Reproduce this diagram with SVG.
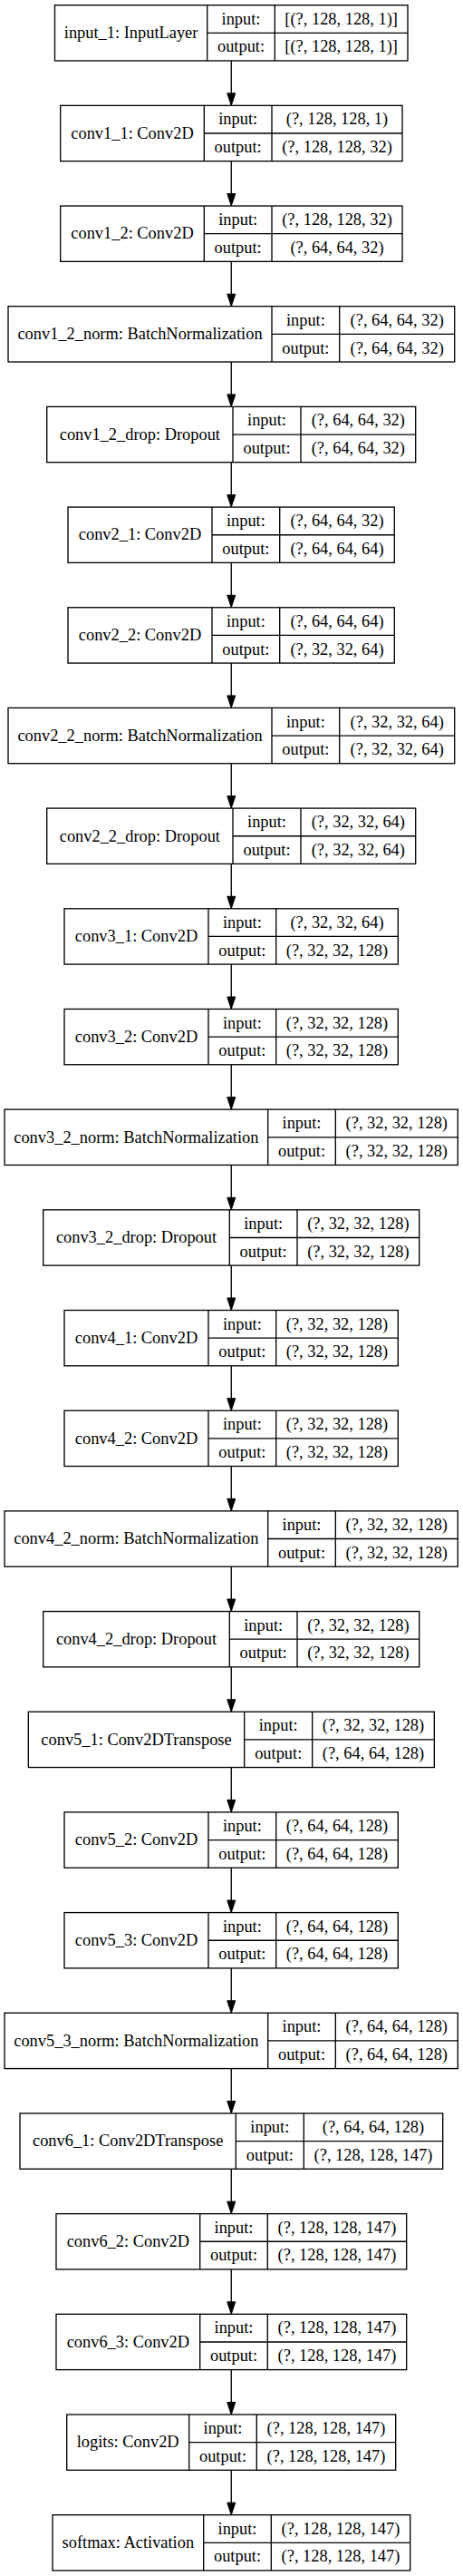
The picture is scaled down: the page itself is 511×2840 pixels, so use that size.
<svg xmlns="http://www.w3.org/2000/svg" width="511" height="2840" viewBox="0 0 511 2840">
<style>
.b{fill:none;stroke:#000;stroke-width:1.33}
text{font-family:"Liberation Serif","Times New Roman",serif;font-size:18.4px;text-anchor:middle;fill:#000}
.e{stroke:#000;stroke-width:1.33;fill:none}
</style>
<defs>
<marker id="ah" markerUnits="userSpaceOnUse" markerWidth="14" markerHeight="10" refX="0" refY="4.5" orient="auto" overflow="visible">
<path d="M0,0 L13.5,4.5 L0,9 z" fill="#000" stroke="#000" stroke-width="1"/>
</marker>
</defs>
<rect width="511" height="2840" fill="#fff"/>
<g id="connectors">
<line class="e" x1="255.25" y1="66.97" x2="255.25" y2="102.85" marker-end="url(#ah)"/>
<line class="e" x1="255.25" y1="177.65" x2="255.25" y2="213.53" marker-end="url(#ah)"/>
<line class="e" x1="255.25" y1="288.33" x2="255.25" y2="324.21" marker-end="url(#ah)"/>
<line class="e" x1="255.25" y1="399.01" x2="255.25" y2="434.89" marker-end="url(#ah)"/>
<line class="e" x1="255.25" y1="509.69" x2="255.25" y2="545.57" marker-end="url(#ah)"/>
<line class="e" x1="255.25" y1="620.37" x2="255.25" y2="656.25" marker-end="url(#ah)"/>
<line class="e" x1="255.25" y1="731.05" x2="255.25" y2="766.93" marker-end="url(#ah)"/>
<line class="e" x1="255.25" y1="841.73" x2="255.25" y2="877.61" marker-end="url(#ah)"/>
<line class="e" x1="255.25" y1="952.41" x2="255.25" y2="988.29" marker-end="url(#ah)"/>
<line class="e" x1="255.25" y1="1063.09" x2="255.25" y2="1098.97" marker-end="url(#ah)"/>
<line class="e" x1="255.25" y1="1173.77" x2="255.25" y2="1209.65" marker-end="url(#ah)"/>
<line class="e" x1="255.25" y1="1284.45" x2="255.25" y2="1320.33" marker-end="url(#ah)"/>
<line class="e" x1="255.25" y1="1395.13" x2="255.25" y2="1431.01" marker-end="url(#ah)"/>
<line class="e" x1="255.25" y1="1505.81" x2="255.25" y2="1541.69" marker-end="url(#ah)"/>
<line class="e" x1="255.25" y1="1616.49" x2="255.25" y2="1652.37" marker-end="url(#ah)"/>
<line class="e" x1="255.25" y1="1727.17" x2="255.25" y2="1763.05" marker-end="url(#ah)"/>
<line class="e" x1="255.25" y1="1837.85" x2="255.25" y2="1873.73" marker-end="url(#ah)"/>
<line class="e" x1="255.25" y1="1948.53" x2="255.25" y2="1984.41" marker-end="url(#ah)"/>
<line class="e" x1="255.25" y1="2059.21" x2="255.25" y2="2095.09" marker-end="url(#ah)"/>
<line class="e" x1="255.25" y1="2169.89" x2="255.25" y2="2205.77" marker-end="url(#ah)"/>
<line class="e" x1="255.25" y1="2280.57" x2="255.25" y2="2316.45" marker-end="url(#ah)"/>
<line class="e" x1="255.25" y1="2391.25" x2="255.25" y2="2427.13" marker-end="url(#ah)"/>
<line class="e" x1="255.25" y1="2501.93" x2="255.25" y2="2537.81" marker-end="url(#ah)"/>
<line class="e" x1="255.25" y1="2612.61" x2="255.25" y2="2648.49" marker-end="url(#ah)"/>
<line class="e" x1="255.25" y1="2723.29" x2="255.25" y2="2759.17" marker-end="url(#ah)"/>
</g>
<g id="input_1" transform="translate(0,5.67)">
<rect class="b" x="60.5" y="0" width="389.5" height="61.3"/>
<path class="b" d="M228.7,0V61.3M303.3,0V61.3M228.7,30.65H450"/>
<text x="144.6" y="36.4">input_1: InputLayer</text>
<text x="266" y="21.1">input:</text><text x="266" y="51.8">output:</text>
<text x="376.65" y="21.1">[(?, 128, 128, 1)]</text><text x="376.65" y="51.8">[(?, 128, 128, 1)]</text>
</g>
<g id="conv1_1" transform="translate(0,116.35)">
<rect class="b" x="66.7" y="0" width="377.3" height="61.3"/>
<path class="b" d="M225.3,0V61.3M300,0V61.3M225.3,30.65H444"/>
<text x="146" y="36.4">conv1_1: Conv2D</text>
<text x="262.65" y="21.1">input:</text><text x="262.65" y="51.8">output:</text>
<text x="372" y="21.1">(?, 128, 128, 1)</text><text x="372" y="51.8">(?, 128, 128, 32)</text>
</g>
<g id="conv1_2" transform="translate(0,227.03)">
<rect class="b" x="66.7" y="0" width="377.3" height="61.3"/>
<path class="b" d="M225.3,0V61.3M300,0V61.3M225.3,30.65H444"/>
<text x="146" y="36.4">conv1_2: Conv2D</text>
<text x="262.65" y="21.1">input:</text><text x="262.65" y="51.8">output:</text>
<text x="372" y="21.1">(?, 128, 128, 32)</text><text x="372" y="51.8">(?, 64, 64, 32)</text>
</g>
<g id="conv1_2_norm" transform="translate(0,337.71)">
<rect class="b" x="9" y="0" width="492.7" height="61.3"/>
<path class="b" d="M300,0V61.3M374.7,0V61.3M300,30.65H501.7"/>
<text x="154.5" y="36.4">conv1_2_norm: BatchNormalization</text>
<text x="337.35" y="21.1">input:</text><text x="337.35" y="51.8">output:</text>
<text x="438.2" y="21.1">(?, 64, 64, 32)</text><text x="438.2" y="51.8">(?, 64, 64, 32)</text>
</g>
<g id="conv1_2_drop" transform="translate(0,448.39)">
<rect class="b" x="51.7" y="0" width="407" height="61.3"/>
<path class="b" d="M257,0V61.3M332,0V61.3M257,30.65H458.7"/>
<text x="154.35" y="36.4">conv1_2_drop: Dropout</text>
<text x="294.5" y="21.1">input:</text><text x="294.5" y="51.8">output:</text>
<text x="395.35" y="21.1">(?, 64, 64, 32)</text><text x="395.35" y="51.8">(?, 64, 64, 32)</text>
</g>
<g id="conv2_1" transform="translate(0,559.07)">
<rect class="b" x="75" y="0" width="360.3" height="61.3"/>
<path class="b" d="M234,0V61.3M308.7,0V61.3M234,30.65H435.3"/>
<text x="154.5" y="36.4">conv2_1: Conv2D</text>
<text x="271.35" y="21.1">input:</text><text x="271.35" y="51.8">output:</text>
<text x="372" y="21.1">(?, 64, 64, 32)</text><text x="372" y="51.8">(?, 64, 64, 64)</text>
</g>
<g id="conv2_2" transform="translate(0,669.75)">
<rect class="b" x="75" y="0" width="360.3" height="61.3"/>
<path class="b" d="M234,0V61.3M308.7,0V61.3M234,30.65H435.3"/>
<text x="154.5" y="36.4">conv2_2: Conv2D</text>
<text x="271.35" y="21.1">input:</text><text x="271.35" y="51.8">output:</text>
<text x="372" y="21.1">(?, 64, 64, 64)</text><text x="372" y="51.8">(?, 32, 32, 64)</text>
</g>
<g id="conv2_2_norm" transform="translate(0,780.43)">
<rect class="b" x="9" y="0" width="492.7" height="61.3"/>
<path class="b" d="M300,0V61.3M374.7,0V61.3M300,30.65H501.7"/>
<text x="154.5" y="36.4">conv2_2_norm: BatchNormalization</text>
<text x="337.35" y="21.1">input:</text><text x="337.35" y="51.8">output:</text>
<text x="438.2" y="21.1">(?, 32, 32, 64)</text><text x="438.2" y="51.8">(?, 32, 32, 64)</text>
</g>
<g id="conv2_2_drop" transform="translate(0,891.11)">
<rect class="b" x="51.7" y="0" width="407" height="61.3"/>
<path class="b" d="M257,0V61.3M332,0V61.3M257,30.65H458.7"/>
<text x="154.35" y="36.4">conv2_2_drop: Dropout</text>
<text x="294.5" y="21.1">input:</text><text x="294.5" y="51.8">output:</text>
<text x="395.35" y="21.1">(?, 32, 32, 64)</text><text x="395.35" y="51.8">(?, 32, 32, 64)</text>
</g>
<g id="conv3_1" transform="translate(0,1001.79)">
<rect class="b" x="71" y="0" width="368.3" height="61.3"/>
<path class="b" d="M230,0V61.3M304.7,0V61.3M230,30.65H439.3"/>
<text x="150.5" y="36.4">conv3_1: Conv2D</text>
<text x="267.35" y="21.1">input:</text><text x="267.35" y="51.8">output:</text>
<text x="372" y="21.1">(?, 32, 32, 64)</text><text x="372" y="51.8">(?, 32, 32, 128)</text>
</g>
<g id="conv3_2" transform="translate(0,1112.47)">
<rect class="b" x="71" y="0" width="368.3" height="61.3"/>
<path class="b" d="M230,0V61.3M304.7,0V61.3M230,30.65H439.3"/>
<text x="150.5" y="36.4">conv3_2: Conv2D</text>
<text x="267.35" y="21.1">input:</text><text x="267.35" y="51.8">output:</text>
<text x="372" y="21.1">(?, 32, 32, 128)</text><text x="372" y="51.8">(?, 32, 32, 128)</text>
</g>
<g id="conv3_2_norm" transform="translate(0,1223.15)">
<rect class="b" x="5" y="0" width="500.3" height="61.3"/>
<path class="b" d="M295.7,0V61.3M370.3,0V61.3M295.7,30.65H505.3"/>
<text x="150.35" y="36.4">conv3_2_norm: BatchNormalization</text>
<text x="333" y="21.1">input:</text><text x="333" y="51.8">output:</text>
<text x="437.8" y="21.1">(?, 32, 32, 128)</text><text x="437.8" y="51.8">(?, 32, 32, 128)</text>
</g>
<g id="conv3_2_drop" transform="translate(0,1333.83)">
<rect class="b" x="47.7" y="0" width="415" height="61.3"/>
<path class="b" d="M253.3,0V61.3M328,0V61.3M253.3,30.65H462.7"/>
<text x="150.5" y="36.4">conv3_2_drop: Dropout</text>
<text x="290.65" y="21.1">input:</text><text x="290.65" y="51.8">output:</text>
<text x="395.35" y="21.1">(?, 32, 32, 128)</text><text x="395.35" y="51.8">(?, 32, 32, 128)</text>
</g>
<g id="conv4_1" transform="translate(0,1444.51)">
<rect class="b" x="71" y="0" width="368.3" height="61.3"/>
<path class="b" d="M230,0V61.3M304.7,0V61.3M230,30.65H439.3"/>
<text x="150.5" y="36.4">conv4_1: Conv2D</text>
<text x="267.35" y="21.1">input:</text><text x="267.35" y="51.8">output:</text>
<text x="372" y="21.1">(?, 32, 32, 128)</text><text x="372" y="51.8">(?, 32, 32, 128)</text>
</g>
<g id="conv4_2" transform="translate(0,1555.19)">
<rect class="b" x="71" y="0" width="368.3" height="61.3"/>
<path class="b" d="M230,0V61.3M304.7,0V61.3M230,30.65H439.3"/>
<text x="150.5" y="36.4">conv4_2: Conv2D</text>
<text x="267.35" y="21.1">input:</text><text x="267.35" y="51.8">output:</text>
<text x="372" y="21.1">(?, 32, 32, 128)</text><text x="372" y="51.8">(?, 32, 32, 128)</text>
</g>
<g id="conv4_2_norm" transform="translate(0,1665.87)">
<rect class="b" x="5" y="0" width="500.3" height="61.3"/>
<path class="b" d="M295.7,0V61.3M370.3,0V61.3M295.7,30.65H505.3"/>
<text x="150.35" y="36.4">conv4_2_norm: BatchNormalization</text>
<text x="333" y="21.1">input:</text><text x="333" y="51.8">output:</text>
<text x="437.8" y="21.1">(?, 32, 32, 128)</text><text x="437.8" y="51.8">(?, 32, 32, 128)</text>
</g>
<g id="conv4_2_drop" transform="translate(0,1776.55)">
<rect class="b" x="47.7" y="0" width="415" height="61.3"/>
<path class="b" d="M253.3,0V61.3M328,0V61.3M253.3,30.65H462.7"/>
<text x="150.5" y="36.4">conv4_2_drop: Dropout</text>
<text x="290.65" y="21.1">input:</text><text x="290.65" y="51.8">output:</text>
<text x="395.35" y="21.1">(?, 32, 32, 128)</text><text x="395.35" y="51.8">(?, 32, 32, 128)</text>
</g>
<g id="conv5_1" transform="translate(0,1887.23)">
<rect class="b" x="31.3" y="0" width="448" height="61.3"/>
<path class="b" d="M269.7,0V61.3M344.7,0V61.3M269.7,30.65H479.3"/>
<text x="150.5" y="36.4">conv5_1: Conv2DTranspose</text>
<text x="307.2" y="21.1">input:</text><text x="307.2" y="51.8">output:</text>
<text x="412" y="21.1">(?, 32, 32, 128)</text><text x="412" y="51.8">(?, 64, 64, 128)</text>
</g>
<g id="conv5_2" transform="translate(0,1997.91)">
<rect class="b" x="71" y="0" width="368.3" height="61.3"/>
<path class="b" d="M230,0V61.3M304.7,0V61.3M230,30.65H439.3"/>
<text x="150.5" y="36.4">conv5_2: Conv2D</text>
<text x="267.35" y="21.1">input:</text><text x="267.35" y="51.8">output:</text>
<text x="372" y="21.1">(?, 64, 64, 128)</text><text x="372" y="51.8">(?, 64, 64, 128)</text>
</g>
<g id="conv5_3" transform="translate(0,2108.59)">
<rect class="b" x="71" y="0" width="368.3" height="61.3"/>
<path class="b" d="M230,0V61.3M304.7,0V61.3M230,30.65H439.3"/>
<text x="150.5" y="36.4">conv5_3: Conv2D</text>
<text x="267.35" y="21.1">input:</text><text x="267.35" y="51.8">output:</text>
<text x="372" y="21.1">(?, 64, 64, 128)</text><text x="372" y="51.8">(?, 64, 64, 128)</text>
</g>
<g id="conv5_3_norm" transform="translate(0,2219.27)">
<rect class="b" x="5" y="0" width="500.3" height="61.3"/>
<path class="b" d="M295.7,0V61.3M370.3,0V61.3M295.7,30.65H505.3"/>
<text x="150.35" y="36.4">conv5_3_norm: BatchNormalization</text>
<text x="333" y="21.1">input:</text><text x="333" y="51.8">output:</text>
<text x="437.8" y="21.1">(?, 64, 64, 128)</text><text x="437.8" y="51.8">(?, 64, 64, 128)</text>
</g>
<g id="conv6_1" transform="translate(0,2329.95)">
<rect class="b" x="22" y="0" width="466.7" height="61.3"/>
<path class="b" d="M260.3,0V61.3M335.3,0V61.3M260.3,30.65H488.7"/>
<text x="141.15" y="36.4">conv6_1: Conv2DTranspose</text>
<text x="297.8" y="21.1">input:</text><text x="297.8" y="51.8">output:</text>
<text x="412" y="21.1">(?, 64, 64, 128)</text><text x="412" y="51.8">(?, 128, 128, 147)</text>
</g>
<g id="conv6_2" transform="translate(0,2440.63)">
<rect class="b" x="62" y="0" width="386.7" height="61.3"/>
<path class="b" d="M220.7,0V61.3M295.3,0V61.3M220.7,30.65H448.7"/>
<text x="141.35" y="36.4">conv6_2: Conv2D</text>
<text x="258" y="21.1">input:</text><text x="258" y="51.8">output:</text>
<text x="372" y="21.1">(?, 128, 128, 147)</text><text x="372" y="51.8">(?, 128, 128, 147)</text>
</g>
<g id="conv6_3" transform="translate(0,2551.31)">
<rect class="b" x="62" y="0" width="386.7" height="61.3"/>
<path class="b" d="M220.7,0V61.3M295.3,0V61.3M220.7,30.65H448.7"/>
<text x="141.35" y="36.4">conv6_3: Conv2D</text>
<text x="258" y="21.1">input:</text><text x="258" y="51.8">output:</text>
<text x="372" y="21.1">(?, 128, 128, 147)</text><text x="372" y="51.8">(?, 128, 128, 147)</text>
</g>
<g id="logits" transform="translate(0,2661.99)">
<rect class="b" x="73.7" y="0" width="363" height="61.3"/>
<path class="b" d="M208.7,0V61.3M283.3,0V61.3M208.7,30.65H436.7"/>
<text x="141.2" y="36.4">logits: Conv2D</text>
<text x="246" y="21.1">input:</text><text x="246" y="51.8">output:</text>
<text x="360" y="21.1">(?, 128, 128, 147)</text><text x="360" y="51.8">(?, 128, 128, 147)</text>
</g>
<g id="softmax" transform="translate(0,2772.67)">
<rect class="b" x="58" y="0" width="394.7" height="61.3"/>
<path class="b" d="M224.7,0V61.3M299.3,0V61.3M224.7,30.65H452.7"/>
<text x="141.35" y="36.4">softmax: Activation</text>
<text x="262" y="21.1">input:</text><text x="262" y="51.8">output:</text>
<text x="376" y="21.1">(?, 128, 128, 147)</text><text x="376" y="51.8">(?, 128, 128, 147)</text>
</g>
</svg>
